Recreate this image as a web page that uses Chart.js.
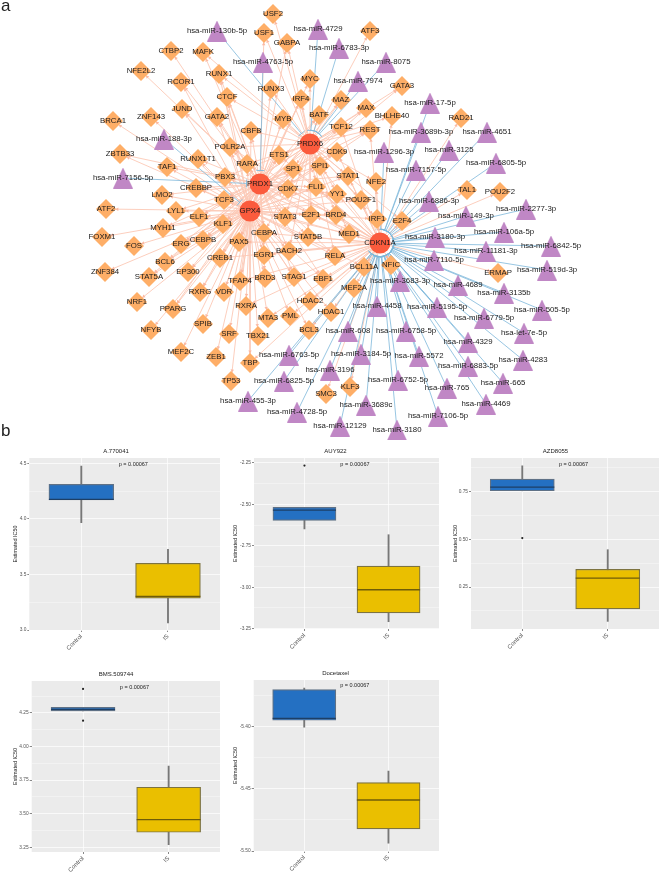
<!DOCTYPE html>
<html>
<head>
<meta charset="utf-8">
<title>Network and IC50 boxplots</title>
<script src="https://cdn.jsdelivr.net/npm/chart.js@4"></script>
<style>
  html, body { margin: 0; padding: 0; background: #fff; }
  #page { position: relative; width: 660px; height: 872px; overflow: hidden; font-family: "Liberation Sans", sans-serif; }
  #page canvas { position: absolute; filter: blur(0.3px); }
  #page canvas.box { filter: blur(0.45px); }
  .tag { position: absolute; font-size: 17px; line-height: 17px; color: #222; }
</style>
</head>
<body>
<div id="page">
  <canvas id="network" width="660" height="440" style="left:0;top:0"></canvas>
  <div class="tag" style="left:1px;top:-3px">a</div>
  <div class="tag" style="left:1px;top:422px">b</div>
</div>
<script>
// hubs
const hubNames = ['PRDX6', 'PRDX1', 'GPX4', 'CDKN1A'];
const hubKeys = ['s', 'x', 'g', 'c'];
const hubX = [310, 260, 250, 380];
const hubY = [144, 184, 211, 243];

// transcription factors
const tfNames = ['USF2', 'USF1', 'GABPA', 'CTBP2', 'MAFK', 'NFE2L2', 'RUNX1', 'RCOR1', 'MYC', 'RUNX3', 'CTCF', 'IRF4', 'JUND', 'GATA2', 'MYB', 'BATF', 'ZNF143', 'BRCA1', 'CBFB', 'POLR2A', 'ZBTB33', 'RUNX1T1', 'ETS1', 'RARA', 'TAF1', 'SP1', 'SPI1', 'PBX3', 'CREBBP', 'CDK7', 'FLI1', 'LMO2', 'TCF3', 'ATF2', 'LYL1', 'ELF1', 'STAT3', 'E2F1', 'BRD4', 'YY1', 'POU2F1', 'STAT1', 'CDK9', 'TCF12', 'REST', 'NFE2', 'IRF1', 'MED1', 'STAT5B', 'CEBPA', 'KLF1', 'PAX5', 'CEBPB', 'ERG', 'CREB1', 'EGR1', 'BACH2', 'RELA', 'BCL11A', 'NFIC', 'E2F4', 'STAG1', 'EBF1', 'BRD3', 'TFAP4', 'EP300', 'MYH11', 'FOXM1', 'FOS', 'BCL6', 'ZNF384', 'STAT5A', 'RXRG', 'VDR', 'NRF1', 'RXRA', 'HDAC2', 'PPARG', 'MTA3', 'PML', 'HDAC1', 'BCL3', 'SPIB', 'NFYB', 'SRF', 'TBX21', 'MEF2C', 'ZEB1', 'TBP', 'TP53', 'SMC3', 'KLF3', 'MEF2A', 'ERMAP', 'TAL1', 'POU2F2', 'RAD21', 'BHLHE40', 'GATA3', 'MAX', 'MAZ', 'ATF3'];
const tfX = [273, 264, 287, 171, 203, 141, 219, 181, 310, 271, 227, 301, 182, 217, 283, 319, 151, 113, 251, 230, 120, 198, 279, 247, 167, 293, 320, 225, 196, 288, 316, 162, 224, 106, 176, 199, 285, 311, 336, 337, 361, 348, 337, 341, 370, 376, 377, 349, 308, 264, 223, 239, 203, 181, 220, 264, 289, 335, 364, 391, 402, 294, 323, 265, 240, 188, 163, 102, 134, 165, 105, 149, 200, 224, 137, 246, 310, 173, 268, 290, 331, 309, 203, 151, 229, 258, 181, 216, 250, 231, 326, 350, 354, 498, 467, 500, 461, 392, 402, 366, 341, 370];
const tfY = [14, 33, 43, 51, 52, 71, 74, 82, 79, 89, 97, 99, 109, 117, 119, 115, 117, 121, 131, 147, 154, 159, 155, 164, 167, 169, 166, 177, 188, 189, 187, 195, 200, 209, 211, 217, 217, 215, 215, 194, 200, 176, 152, 127, 130, 182, 219, 234, 237, 233, 224, 242, 240, 244, 258, 255, 251, 256, 267, 265, 221, 277, 279, 278, 281, 272, 228, 237, 246, 262, 272, 277, 292, 292, 302, 306, 301, 309, 318, 316, 312, 330, 324, 330, 334, 336, 352, 357, 363, 381, 394, 387, 288, 273, 190, 192, 118, 116, 86, 108, 100, 31];
const tfHubs = ['s', 'sx', 'sx', 'x', 'sx', 'x', 'sxg', 'xg', 'sg', 'sx', 'sxg', 'sxg', 'gx', 'xg', 'sxg', 'sxg', 'g', 'g', 'sxg', 'sxgc', 'gx', 'gx', 'sxgc', 'sxgc', 'gx', 'sxgc', 'sxgc', 'sxgc', 'gx', 'sxgc', 'sxgc', 'gx', 'sxg', 'g', 'gx', 'gxs', 'sxgc', 'sxgc', 'sxgc', 'sxgc', 'sxgc', 'sxgc', 'sxgc', 'sxgc', 'sxgc', 'sc', 'sgc', 'sxgc', 'sxgc', 'sxgc', 'gxs', 'gxc', 'gxs', 'gx', 'gxc', 'gxc', 'sxgc', 'sxgc', 'cg', 'c', 'cs', 'gcx', 'gcx', 'gx', 'gxc', 'gx', 'gx', 'g', 'g', 'gx', 'g', 'gx', 'gx', 'gx', 'g', 'gc', 'gc', 'gx', 'gc', 'gc', 'gc', 'gc', 'g', 'g', 'g', 'g', 'g', 'g', 'gc', 'g', 'c', 'c', 'c', 'c', 'c', 'c', 'c', 'sc', 'sg', 'sg', 'sg', 's'];

// miRNAs
const mirNames = ['hsa-miR-130b-5p', 'hsa-miR-4729', 'hsa-miR-4763-5p', 'hsa-miR-6783-3p', 'hsa-miR-188-3p', 'hsa-miR-7156-5p', 'hsa-miR-8075', 'hsa-miR-7974', 'hsa-miR-17-5p', 'hsa-miR-3689b-3p', 'hsa-miR-4651', 'hsa-miR-3125', 'hsa-miR-1296-3p', 'hsa-miR-6805-5p', 'hsa-miR-7157-5p', 'hsa-miR-6886-3p', 'hsa-miR-2277-3p', 'hsa-miR-149-3p', 'hsa-miR-106a-5p', 'hsa-miR-3180-3p', 'hsa-miR-6842-5p', 'hsa-miR-11181-3p', 'hsa-miR-7110-5p', 'hsa-miR-519d-3p', 'hsa-miR-3683-3p', 'hsa-miR-4689', 'hsa-miR-3135b', 'hsa-miR-505-5p', 'hsa-miR-5195-5p', 'hsa-miR-6779-5p', 'hsa-let-7e-5p', 'hsa-miR-4458', 'hsa-miR-608', 'hsa-miR-6758-5p', 'hsa-miR-4329', 'hsa-miR-4283', 'hsa-miR-3184-5p', 'hsa-miR-5572', 'hsa-miR-6883-5p', 'hsa-miR-665', 'hsa-miR-3196', 'hsa-miR-6752-5p', 'hsa-miR-765', 'hsa-miR-4469', 'hsa-miR-3689c', 'hsa-miR-7106-5p', 'hsa-miR-12129', 'hsa-miR-3180', 'hsa-miR-6763-5p', 'hsa-miR-6825-5p', 'hsa-miR-455-3p', 'hsa-miR-4728-5p'];
const mirX = [217, 318, 263, 339, 164, 123, 386, 358, 430, 421, 487, 449, 384, 496, 416, 429, 526, 466, 504, 435, 551, 486, 434, 547, 400, 458, 504, 542, 437, 484, 524, 377, 348, 406, 468, 523, 361, 419, 468, 503, 330, 398, 447, 486, 366, 438, 340, 397, 289, 284, 248, 297];
const mirY = [31, 29, 62, 48, 139, 178, 62, 81, 103, 132, 132, 150, 152, 163, 170, 201, 209, 216, 232, 237, 246, 251, 260, 270, 281, 285, 293, 310, 307, 318, 333, 306, 331, 331, 342, 360, 354, 356, 366, 383, 370, 380, 388, 404, 405, 416, 426, 430, 355, 381, 401, 412];
const mirHubs = ['s', 's', 'x', 's', 'g', 'x', 's', 's', 'c', 'c', 'c', 'c', 'c', 'c', 'c', 'c', 'c', 'c', 'c', 'c', 'c', 'c', 'c', 'c', 'c', 'c', 'c', 'c', 'c', 'c', 'c', 'c', 'c', 'c', 'c', 'c', 'c', 'c', 'c', 'c', 'c', 'c', 'c', 'c', 'c', 'c', 'c', 'c', 'c', 'c', 'c', 'c'];

// boxplots
const drugs = ['A.770041', 'AUY922', 'AZD8055', 'BMS.509744', 'Docetaxel'];
const groups = ['Control', 'IS'];
const pLabel = 'p = 0.00067';
const whiskerLow = [[3.966, 3.063], [-2.648, -3.208], [0.755, 0.07], [4.265, 3.27], [-5.4005, -5.4938]];
const q1 = [[4.17, 3.287], [-2.596, -3.155], [0.755, 0.135], [4.265, 3.362], [-5.3949, -5.4823]];
const medians = [[4.175, 3.302], [-2.534, -3.015], [0.774, 0.297], [4.277, 3.456], [-5.3933, -5.459]];
const q3 = [[4.31, 3.6], [-2.518, -2.872], [0.816, 0.343], [4.292, 3.697], [-5.3702, -5.445]];
const whiskerHigh = [[4.476, 3.727], [-2.518, -2.683], [0.886, 0.446], [4.292, 3.855], [-5.3689, -5.4357]];
const outliers = [[], [-2.266], [0.507], [4.429, 4.193], []];
const yTicks = [[3, 3.5, 4, 4.5], [-3.25, -3, -2.75, -2.5, -2.25], [0.25, 0.5, 0.75], [3.25, 3.5, 3.75, 4, 4.25], [-5.5, -5.45, -5.4]];
const yDecimals = [1, 2, 2, 2, 2];
const yMin = [3.0, -3.252, 0.03, 3.215, -5.5];
const yMax = [4.548, -2.22, 0.927, 4.488, -5.3625];
const pY = [4.488, -2.258, 0.893, 4.441, -5.367];

// where each panel sits on the page
const panelLeft = [29.3, 254, 471, 31.7, 253.7];
const panelRight = [219.3, 439, 659, 219.3, 439];
const panelTop = [458, 458.3, 458.3, 680.7, 680];
const panelBottom = [629.5, 629.3, 629.3, 851.7, 851];
const canvasLeft = [12, 232, 452, 12, 232];

const pink = '#fcc8b6';
const blue = '#7db8da';

function triangleImage(w, h, color) {
  const c = document.createElement('canvas');
  c.width = w;
  c.height = h;
  const g = c.getContext('2d');
  g.fillStyle = color;
  g.beginPath();
  g.moveTo(w / 2, 0);
  g.lineTo(w, h);
  g.lineTo(0, h);
  g.closePath();
  g.fill();
  return c;
}

function pts(xs, ys) {
  return xs.map((x, i) => ({ x: x, y: ys[i] }));
}

// edges, arrow heads and T bars
const tfEdges = [], mirEdges = [], arrows = [], arrowAngles = [], bars = [], barAngles = [];
tfNames.forEach((name, i) => {
  for (const k of tfHubs[i]) {
    const h = hubKeys.indexOf(k);
    tfEdges.push({ x: hubX[h], y: hubY[h] }, { x: tfX[i], y: tfY[i] }, { x: NaN, y: NaN });
    const dx = tfX[i] - hubX[h], dy = tfY[i] - hubY[h];
    const len = Math.hypot(dx, dy);
    const ux = dx / len, uy = dy / len;
    const d = 10 / (Math.abs(ux) + Math.abs(uy)) + 1.5;
    arrows.push({ x: tfX[i] - ux * d, y: tfY[i] - uy * d });
    arrowAngles.push(Math.atan2(dy, dx) * 180 / Math.PI + 90);
  }
});
mirNames.forEach((name, i) => {
  const h = hubKeys.indexOf(mirHubs[i]);
  const dx = mirX[i] - hubX[h], dy = mirY[i] - hubY[h];
  const len = Math.hypot(dx, dy);
  const bx = hubX[h] + dx / len * 13.5, by = hubY[h] + dy / len * 13.5;
  mirEdges.push({ x: bx, y: by }, { x: mirX[i], y: mirY[i] }, { x: NaN, y: NaN });
  bars.push({ x: bx, y: by });
  barAngles.push(Math.atan2(dy, dx) * 180 / Math.PI + 90);
});

const nodeLabels = {
  id: 'nodeLabels',
  afterDatasetsDraw(chart) {
    const { ctx, scales } = chart;
    ctx.save();
    ctx.font = '7.8px "Liberation Sans", sans-serif';
    ctx.textAlign = 'center';
    ctx.textBaseline = 'middle';
    ctx.fillStyle = '#1a1a1a';
    const put = (names, xs, ys) => names.forEach((n, i) => {
      ctx.fillText(n, scales.x.getPixelForValue(xs[i]), scales.y.getPixelForValue(ys[i]));
    });
    put(tfNames, tfX, tfY);
    put(mirNames, mirX, mirY);
    put(hubNames, hubX, hubY);
    ctx.restore();
  }
};

new Chart(document.getElementById('network'), {
  type: 'scatter',
  plugins: [nodeLabels],
  data: {
    datasets: [
      { data: tfEdges, showLine: true, spanGaps: false, pointRadius: 0, borderColor: pink, borderWidth: 0.9, order: 6 },
      { data: mirEdges, showLine: true, spanGaps: false, pointRadius: 0, borderColor: blue, borderWidth: 0.8, order: 5 },
      { data: arrows, pointStyle: 'triangle', pointRadius: 2, pointRotation: arrowAngles, backgroundColor: '#fbb9a2', borderWidth: 0, order: 4 },
      { data: bars, pointStyle: 'line', pointRadius: 4, pointRotation: barAngles, borderColor: blue, pointBorderWidth: 0.9, order: 4 },
      { data: pts(tfX, tfY), pointStyle: 'rectRot', pointRadius: 10, backgroundColor: '#feae67', borderWidth: 0, order: 3 },
      { data: pts(mirX, mirY), pointStyle: triangleImage(20, 21, '#c087c5'), pointRadius: 10, order: 2 },
      { data: pts(hubX, hubY), pointStyle: 'circle', pointRadius: 10.5, backgroundColor: '#fb5b3d', borderWidth: 0, order: 1 }
    ]
  },
  options: {
    responsive: false,
    animation: false,
    events: [],
    layout: { padding: 0, autoPadding: false },
    plugins: { legend: { display: false }, tooltip: { enabled: false } },
    scales: {
      x: { type: 'linear', min: 0, max: 660, display: false },
      y: { type: 'linear', min: 0, max: 440, reverse: true, display: false }
    }
  }
});

const panelBackground = {
  id: 'panelBackground',
  beforeDraw(chart) {
    const { ctx, chartArea: a } = chart;
    ctx.save();
    ctx.fillStyle = '#ebebeb';
    ctx.fillRect(a.left, a.top, a.right - a.left, a.bottom - a.top);
    ctx.restore();
  }
};

const pText = {
  id: 'pText',
  afterDatasetsDraw(chart, args, opts) {
    const { ctx, scales } = chart;
    ctx.save();
    ctx.font = '5.5px "Liberation Sans", sans-serif';
    ctx.fillStyle = '#222';
    ctx.textAlign = 'center';
    ctx.textBaseline = 'middle';
    ctx.fillText(pLabel, scales.x.getPixelForValue(1.6), scales.y.getPixelForValue(opts.y));
    ctx.restore();
  }
};

drugs.forEach((drug, p) => {
  const page = document.getElementById('page');
  const cv = document.createElement('canvas');
  cv.className = 'box';
  const top = panelTop[p] - 12;
  const w = panelRight[p] - canvasLeft[p];
  cv.width = Math.ceil(w);
  cv.height = Math.ceil(panelBottom[p] - top + 22);
  cv.style.left = canvasLeft[p] + 'px';
  cv.style.top = top + 'px';
  page.appendChild(cv);

  const boxPx = (panelRight[p] - panelLeft[p]) / 2.2 * 0.75;
  const step = yTicks[p][1] - yTicks[p][0];
  const allTicks = [];
  yTicks[p].forEach(v => allTicks.push({ value: v, major: true }));
  for (let i = -1; i < yTicks[p].length; i++) {
    const v = yTicks[p][0] + (i + 0.5) * step;
    if (v > yMin[p] && v < yMax[p]) allTicks.push({ value: v, major: false });
  }
  allTicks.sort((a, b) => a.value - b.value);

  new Chart(cv, {
    type: 'bar',
    plugins: [panelBackground, pText],
    data: {
      datasets: [
        {
          data: groups.map((g, i) => ({ x: i + 1, y: [whiskerLow[p][i], whiskerHigh[p][i]] })),
          grouped: false, barThickness: 1.2, backgroundColor: '#777', borderWidth: 0, order: 4
        },
        {
          data: groups.map((g, i) => ({ x: i + 1, y: [q1[p][i], q3[p][i]] })),
          grouped: false, barThickness: boxPx, backgroundColor: ['#2470c2', '#eabf00'],
          borderColor: ['#5f7186', '#7d7340'], borderWidth: 1.2, borderSkipped: false, order: 3
        },
        {
          type: 'line',
          data: groups.map((g, i) => ({ x: i + 1, y: medians[p][i] })),
          showLine: false, pointStyle: 'line', pointRadius: boxPx / 2,
          pointBorderColor: ['#1d3f66', '#6f5c08'], pointBorderWidth: 1.3, order: 2
        },
        {
          type: 'line',
          data: outliers[p].map(v => ({ x: 1, y: v })),
          showLine: false, pointStyle: 'circle', pointRadius: 1.1,
          pointBackgroundColor: '#222', pointBorderWidth: 0, order: 1
        }
      ]
    },
    options: {
      responsive: false,
      animation: false,
      events: [],
      layout: { padding: 0, autoPadding: false },
      plugins: {
        legend: { display: false },
        tooltip: { enabled: false },
        pText: { y: pY[p] },
        title: {
          display: true,
          text: drug,
          color: '#222',
          font: { family: '"Liberation Sans", sans-serif', size: 6, weight: 'normal' },
          padding: { top: 2, bottom: 2.8 }
        }
      },
      scales: {
        x: {
          type: 'linear',
          min: 0.4,
          max: 2.6,
          offset: false,
          afterFit: s => { s.height = 22; s.paddingLeft = 0; s.paddingRight = 0; },
          afterBuildTicks: s => { s.ticks = [{ value: 1 }, { value: 2 }]; },
          border: { display: false },
          grid: { offset: false, color: '#fff', lineWidth: 0.7, tickColor: '#555', tickLength: 2 },
          ticks: {
            callback: v => groups[v - 1],
            color: '#555',
            minRotation: 45,
            maxRotation: 45,
            padding: 1,
            autoSkip: false,
            font: { family: '"Liberation Sans", sans-serif', size: 6 }
          }
        },
        y: {
          type: 'linear',
          min: yMin[p],
          max: yMax[p],
          afterFit: s => { s.width = panelLeft[p] - canvasLeft[p]; s.paddingTop = 0; s.paddingBottom = 0; },
          afterBuildTicks: s => { s.ticks = allTicks.map(t => ({ value: t.value, major: t.major })); },
          border: { display: false },
          title: {
            display: true,
            text: 'Estimated IC50',
            color: '#222',
            padding: 0,
            font: { family: '"Liberation Sans", sans-serif', size: 5.4 }
          },
          grid: {
            color: '#fff',
            lineWidth: c => (c.tick && c.tick.major ? 0.7 : 0.35),
            tickColor: c => (c.tick && c.tick.major ? '#555' : 'rgba(0,0,0,0)'),
            tickLength: 2
          },
          ticks: {
            callback: (v, i, all) => (all[i].major ? v.toFixed(yDecimals[p]) : ''),
            color: '#555',
            padding: 1,
            autoSkip: false,
            font: { family: '"Liberation Sans", sans-serif', size: 4.8 }
          }
        }
      }
    }
  });
});
</script>
</body>
</html>
